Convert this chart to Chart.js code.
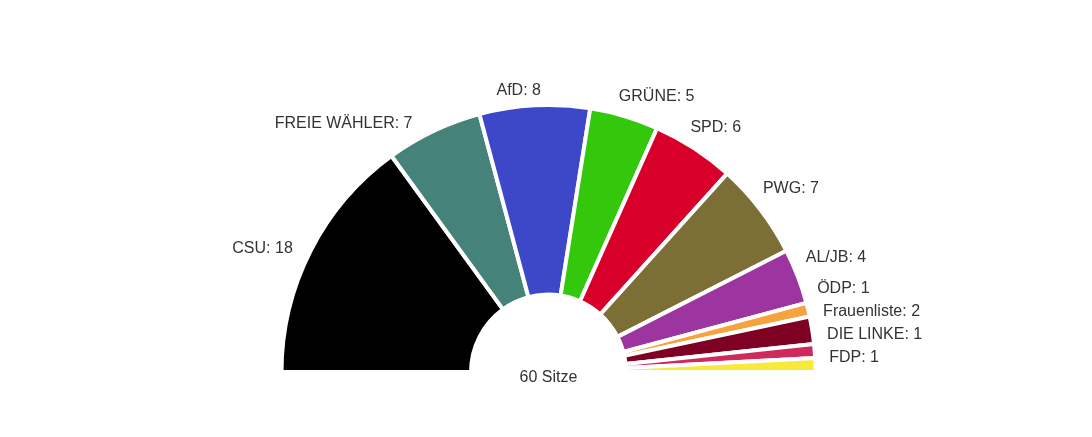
<!DOCTYPE html>
<html>
<head>
<meta charset="utf-8">
<script src="https://cdn.jsdelivr.net/npm/chart.js@4/dist/chart.umd.min.js"></script>
<style>
  html, body { margin: 0; padding: 0; background: #fff; }
</style>
</head>
<body>
<canvas id="seatChart" width="1092" height="437"></canvas>
<script>
'use strict';
// seats per party, in order from left to right round the half circle
var parties = ['CSU', 'FREIE WÄHLER', 'AfD', 'GRÜNE', 'SPD', 'PWG', 'AL/JB', 'ÖDP', 'Frauenliste', 'DIE LINKE', 'FDP'];
var seats = [18, 7, 8, 5, 6, 7, 4, 1, 2, 1, 1];
var partyColors = ['#000000', '#45827a', '#3d48c9', '#33c80c', '#d8002a', '#7b6f35', '#9c35a0', '#f6a33e', '#7e0022', '#cf2a5c', '#f9e93b'];
var seatWord = 'Sitze';

var textColor = '#333333';
var textFont = '16px "Liberation Sans", Arial, sans-serif';

var totalSeats = seats.reduce(function (a, b) { return a + b; }, 0);

// labels sit just outside the ring; the thin slices near the base get spread out
var seatLabels = {
  id: 'seatLabels',
  afterDatasetsDraw: function (chart) {
    var ctx = chart.ctx;
    var arcs = chart.getDatasetMeta(0).data;
    if (!arcs.length) return;
    var cx = arcs[0].x, cy = arcs[0].y;
    var R = arcs[0].outerRadius + 18;
    var gap = 23;

    var items = arcs.map(function (arc, i) {
      var mid = (arc.startAngle + arc.endAngle) / 2;
      var theta = -mid * 180 / Math.PI;
      // nudge labels a little anticlockwise, less so near the left base
      var shift = 3 * Math.min(1, Math.max(0, (165 - theta) / 45));
      var a = mid - shift * Math.PI / 180;
      return {
        text: parties[i] + ': ' + seats[i],
        mid: a,
        x: cx + R * Math.cos(a),
        y: cy + R * Math.sin(a) + 2,
        right: Math.cos(a) > 0
      };
    });

    var right = items.filter(function (it) { return it.right; });
    var j;
    // keep a minimum gap going down ...
    for (j = 1; j < right.length; j++) {
      right[j].y = Math.max(right[j].y, right[j - 1].y + gap);
    }
    // ... and keep them above the base line going up
    var limit = cy - 14;
    for (j = right.length - 1; j >= 0; j--) {
      right[j].y = Math.min(right[j].y, limit);
      limit = right[j].y - gap;
    }
    right.forEach(function (it) {
      var dy = cy - it.y;
      it.x = cx + Math.sqrt(Math.max(R * R - dy * dy, 0)) - 4;
    });

    ctx.save();
    ctx.font = textFont;
    ctx.fillStyle = textColor;
    ctx.textBaseline = 'middle';
    items.forEach(function (it) {
      var align = it.right ? 'left' : 'right';
      if (Math.abs(Math.cos(it.mid)) < 0.2) align = 'center';
      ctx.textAlign = align;
      ctx.fillText(it.text, it.x, it.y);
    });
    ctx.textAlign = 'center';
    ctx.fillText(totalSeats + ' ' + seatWord, cx, cy + 6);
    ctx.restore();
  }
};

function makeChart() {
  var ctx = document.getElementById('seatChart');
  new Chart(ctx, {
    type: 'doughnut',
    data: {
      labels: parties,
      datasets: [{
        data: seats,
        backgroundColor: partyColors,
        borderColor: '#ffffff',
        borderWidth: 4
      }]
    },
    options: {
      responsive: false,
      animation: false,
      rotation: -90,
      circumference: 180,
      cutout: '29%',
      layout: { padding: { left: 279, right: 274, top: 103, bottom: 63 } },
      plugins: {
        legend: { display: false },
        tooltip: { enabled: false }
      }
    },
    plugins: [seatLabels]
  });
}
makeChart();
</script>
</body>
</html>
